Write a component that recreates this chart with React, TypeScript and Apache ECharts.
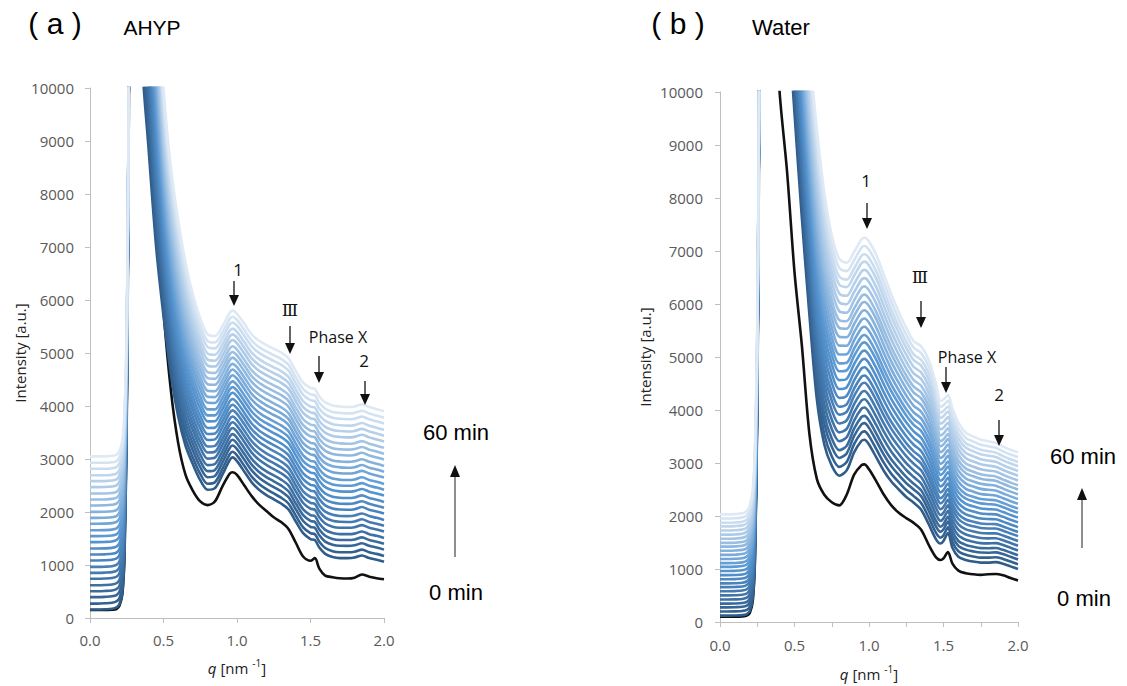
import React, { useEffect, useRef } from "react";
import * as echarts from "echarts";

// NOTE ON DATA: the 0 min (black), first coloured and last (60 min) coloured
// profiles below were read off the reference picture at the listed q knots.
// The individual intermediate frames cannot be resolved one by one in the
// picture, so each intermediate coloured curve is drawn as a blend of the first
// and last coloured profiles, weighted by that frame's intensity at q = 2.0
// (the *_ENDS arrays, also). Those intermediate curves
// are therefore an approximation, not individually measured data.

// ---------- Panel (a) AHYP ----------
const Q_A = [0, 0.05, 0.1, 0.15, 0.18, 0.2, 0.22, 0.235, 0.25, 0.26, 0.27, 0.3, 0.35, 0.4, 0.45, 0.5, 0.55, 0.6, 0.65, 0.7, 0.75, 0.8, 0.85, 0.9, 0.95, 0.97, 1.0, 1.05, 1.1, 1.15, 1.2, 1.25, 1.3, 1.35, 1.4, 1.45, 1.5, 1.53, 1.56, 1.6, 1.65, 1.7, 1.75, 1.8, 1.85, 1.9, 1.95, 2.0];
// 0 min (black)
const A_BLACK = [150, 150, 150, 155, 170, 230, 450, 1200, 3800, 7500, 12000, 20000, 14000, 10500, 7800, 5800, 4300, 3300, 2700, 2400, 2200, 2130, 2200, 2480, 2720, 2750, 2700, 2500, 2300, 2140, 2020, 1900, 1810, 1680, 1420, 1160, 1080, 1130, 930, 800, 770, 750, 745, 760, 820, 780, 750, 730];
// first coloured frame
const A_FIRST = [160, 160, 165, 175, 200, 260, 480, 1300, 4000, 8000, 13000, 22000, 10800, 8800, 7000, 5700, 4600, 3800, 3250, 2900, 2600, 2420, 2450, 2700, 2980, 3030, 2960, 2760, 2560, 2420, 2320, 2240, 2160, 2050, 1820, 1600, 1490, 1470, 1330, 1210, 1150, 1130, 1130, 1140, 1180, 1130, 1100, 1060];
// 60 min (lightest)
const A_LAST = [3050, 3050, 3050, 3060, 3080, 3150, 3350, 3900, 5500, 8500, 13000, 25000, 22000, 16000, 12500, 10000, 8500, 7500, 6700, 6100, 5650, 5350, 5320, 5500, 5760, 5800, 5740, 5550, 5350, 5230, 5150, 5080, 5010, 4900, 4660, 4440, 4340, 4320, 4180, 4070, 4010, 3990, 3980, 3990, 4030, 3980, 3940, 3900];
// intensity of each coloured frame at q = 2.0
const A_ENDS = [1060, 1170, 1290, 1400, 1510, 1630, 1740, 1850, 1970, 2080, 2190, 2310, 2420, 2530, 2650, 2760, 2870, 2990, 3100, 3210, 3330, 3440, 3550, 3670, 3780, 3900];

// ---------- Panel (b) Water ----------
const Q_B = [0, 0.05, 0.1, 0.15, 0.18, 0.2, 0.22, 0.235, 0.25, 0.26, 0.27, 0.3, 0.35, 0.4, 0.45, 0.5, 0.55, 0.6, 0.65, 0.7, 0.75, 0.8, 0.85, 0.9, 0.95, 0.97, 1.0, 1.05, 1.1, 1.15, 1.2, 1.25, 1.3, 1.35, 1.4, 1.45, 1.48, 1.5, 1.53, 1.56, 1.6, 1.65, 1.7, 1.75, 1.8, 1.85, 1.9, 1.95, 2.0];
const B_BLACK = [100, 100, 100, 105, 120, 170, 400, 1200, 4000, 8000, 13000, 16000, 12500, 10000, 8500, 6600, 5200, 3550, 2700, 2400, 2260, 2200, 2400, 2780, 2960, 2975, 2880, 2650, 2400, 2200, 2060, 1960, 1870, 1740, 1460, 1220, 1170, 1200, 1320, 1100, 970, 920, 900, 890, 900, 905, 880, 830, 785];
const B_FIRST = [120, 120, 122, 130, 150, 210, 450, 1300, 4200, 8500, 14000, 22000, 18000, 15000, 11800, 9600, 7600, 5800, 4200, 3350, 2950, 2760, 2860, 3200, 3420, 3440, 3350, 3100, 2850, 2650, 2500, 2360, 2250, 2120, 1850, 1560, 1480, 1530, 1680, 1400, 1230, 1170, 1140, 1120, 1120, 1130, 1100, 1050, 1000];
const B_LAST = [2030, 2030, 2035, 2050, 2090, 2200, 2500, 3300, 5500, 9000, 14000, 30000, 30000, 24000, 19000, 15500, 12800, 10800, 9300, 8100, 7300, 6850, 6780, 6980, 7220, 7250, 7180, 6920, 6550, 6180, 5850, 5550, 5300, 5200, 4950, 4490, 4170, 4200, 4280, 4030, 3760, 3570, 3500, 3440, 3410, 3380, 3310, 3250, 3200];
const B_ENDS = [1000, 1090, 1180, 1260, 1350, 1440, 1530, 1620, 1700, 1790, 1880, 1970, 2060, 2140, 2230, 2320, 2410, 2500, 2580, 2670, 2760, 2850, 2940, 3020, 3110, 3200];

const Y_TICKS_MAX = 10000;
const X_MAX = 2.0;

function blueAt(f: number): string {
  const stops: [number, number[]][] = [
    [0, [48, 92, 138]],
    [0.45, [86, 148, 208]],
    [1, [222, 233, 245]],
  ];
  for (let i = 0; i < stops.length - 1; i++) {
    const [f0, c0] = stops[i];
    const [f1, c1] = stops[i + 1];
    if (f <= f1) {
      const t = (f - f0) / (f1 - f0);
      const c = c0.map((v, k) => Math.round(v + (c1[k] - v) * t));
      return `rgb(${c[0]},${c[1]},${c[2]})`;
    }
  }
  const c = stops[stops.length - 1][1];
  return `rgb(${c[0]},${c[1]},${c[2]})`;
}

function panelSeries(idx: number, q: number[], black: number[], first: number[], last: number[], ends: number[]) {
  const out: any[] = [];
  out.push({
    type: "line",
    name: "0 min",
    xAxisIndex: idx,
    yAxisIndex: idx,
    data: q.map((x, k) => [x, black[k]]),
    symbol: "none",
    smooth: 0.3,
    silent: true,
    lineStyle: { color: "#111111", width: 2.6 },
  });
  const e0 = ends[0];
  const e1 = ends[ends.length - 1];
  ends.forEach((e, i) => {
    // blend weight of this frame between the first and last coloured profiles
    const t = (e - e0) / (e1 - e0);
    out.push({
      type: "line",
      xAxisIndex: idx,
      yAxisIndex: idx,
      data: q.map((x, k) => [x, Math.round(first[k] + (last[k] - first[k]) * t)]),
      symbol: "none",
      smooth: 0.3,
      silent: true,
      lineStyle: { color: blueAt(i / (ends.length - 1)), width: 2.6 },
    });
  });
  return out;
}

const AXIS_GRAY = "#bfbfbf";
const LABEL_GRAY = "#595959";

function xAxisFor(idx: number, minor: boolean, margin: number, nameGap: number) {
  return {
    type: "value",
    gridIndex: idx,
    min: 0,
    max: X_MAX,
    interval: 0.5,
    name: "{i|q} [nm {s|-1}]",
    nameLocation: "middle",
    nameGap,
    nameTextStyle: {
      color: "#222",
      fontFamily: "Open Sans",
      fontSize: 15,
      rich: {
        i: { fontStyle: "italic", fontFamily: "Open Sans", fontSize: 15, color: "#222" },
        s: { fontFamily: "Open Sans", fontSize: 10, color: "#222", padding: [0, 0, 9, 0] },
      },
    },
    axisLine: { show: true, onZero: false, lineStyle: { color: AXIS_GRAY, width: 1 } },
    axisTick: { show: true, length: 5, lineStyle: { color: AXIS_GRAY } },
    minorTick: { show: minor, splitNumber: 2, length: 5, lineStyle: { color: AXIS_GRAY } },
    splitLine: { show: false },
    axisLabel: {
      color: LABEL_GRAY,
      fontFamily: "Open Sans",
      fontSize: 15,
      margin,
      formatter: (v: number) => v.toFixed(1),
    },
  };
}

function yAxisFor(idx: number, nameGap: number, margin: number) {
  return {
    type: "value",
    gridIndex: idx,
    min: 0,
    max: Y_TICKS_MAX,
    interval: 1000,
    name: "Intensity [a.u.]",
    nameLocation: "middle",
    nameRotate: 90,
    nameGap,
    nameTextStyle: { color: "#222", fontFamily: "Open Sans", fontSize: 15 },
    axisLine: { show: true, lineStyle: { color: AXIS_GRAY, width: 1 } },
    axisTick: { show: true, length: 5, lineStyle: { color: AXIS_GRAY } },
    splitLine: { show: false },
    axisLabel: {
      color: LABEL_GRAY,
      fontFamily: "Open Sans",
      fontSize: 15,
      margin,
      formatter: (v: number) => String(v),
    },
  };
}

function text(x: number, y: number, t: string, size: number, family = "Open Sans", color = "#111") {
  return {
    type: "text",
    x,
    y,
    z: 100,
    silent: true,
    style: { text: t, fill: color, font: `${size}px "${family}"`, align: "center", verticalAlign: "middle" },
  };
}

function downArrow(x: number, y1: number, y2: number) {
  const h = 11;
  const w = 5;
  return [
    { type: "line", z: 100, silent: true, shape: { x1: x, y1, x2: x, y2: y2 - h + 1 }, style: { stroke: "#111", lineWidth: 1.3 } },
    { type: "polygon", z: 100, silent: true, shape: { points: [[x - w, y2 - h], [x + w, y2 - h], [x, y2]] }, style: { fill: "#111" } },
  ];
}

function upArrow(x: number, y1: number, y2: number) {
  // y1 bottom, y2 tip (top)
  const h = 12;
  const w = 5;
  return [
    { type: "line", z: 100, silent: true, shape: { x1: x, y1, x2: x, y2: y2 + h - 1 }, style: { stroke: "#444", lineWidth: 1.2 } },
    { type: "polygon", z: 100, silent: true, shape: { points: [[x - w, y2 + h], [x + w, y2 + h], [x, y2]] }, style: { fill: "#111" } },
  ];
}

export default function App() {
  const ref = useRef<HTMLDivElement>(null);
  useEffect(() => {
    if (!ref.current) return;
    const chart = echarts.init(ref.current, undefined, { renderer: "svg" });
    const graphics: any[] = [
      text(55, 23, "( a )", 30, "Liberation Sans", "#000"),
      text(152, 27, "AHYP", 21, "Liberation Sans", "#000"),
      text(678, 23, "( b )", 30, "Liberation Sans", "#000"),
      text(781, 27, "Water", 22, "Liberation Sans", "#000"),
      // panel a annotations
      text(238, 269, "1", 17),
      ...downArrow(234, 281, 306),
      text(290, 310, "Ⅲ", 17, "DejaVu Serif"),
      ...downArrow(290, 326, 354),
      text(338, 337, "Phase X", 16),
      ...downArrow(319, 356, 383),
      text(364, 360, "2", 17),
      ...downArrow(365, 381, 405),
      text(456, 432, "60 min", 22, "Liberation Sans", "#000"),
      ...upArrow(455, 557, 465),
      text(456, 592, "0 min", 22, "Liberation Sans", "#000"),
      // panel b annotations
      text(866, 180, "1", 17),
      ...downArrow(867, 203, 229),
      text(920, 277, "Ⅲ", 17, "DejaVu Serif"),
      ...downArrow(921, 301, 328),
      text(967, 357, "Phase X", 16),
      ...downArrow(946, 367, 393),
      text(999, 394, "2", 17),
      ...downArrow(999, 420, 446),
      text(1083, 456, "60 min", 22, "Liberation Sans", "#000"),
      ...upArrow(1082, 548, 488),
      text(1084, 598, "0 min", 22, "Liberation Sans", "#000"),
    ];
    chart.setOption({
      animation: false,
      backgroundColor: "#ffffff",
      grid: [
        { left: 90, top: 88, width: 294, height: 530 },
        { left: 720, top: 92, width: 298, height: 536 },
      ],
      xAxis: [xAxisFor(0, false, 14, 40), xAxisFor(1, true, 15, 42)],
      yAxis: [yAxisFor(0, 62, 16), yAxisFor(1, 68, 17)],
      series: [
        ...panelSeries(0, Q_A, A_BLACK, A_FIRST, A_LAST, A_ENDS),
        ...panelSeries(1, Q_B, B_BLACK, B_FIRST, B_LAST, B_ENDS),
      ],
      graphic: graphics,
    });
    return () => chart.dispose();
  }, []);
  return (
    <div
      ref={ref}
      style={{ position: "fixed", left: 0, top: 0, width: 1127, height: 686, background: "#fff" }}
    />
  );
}
